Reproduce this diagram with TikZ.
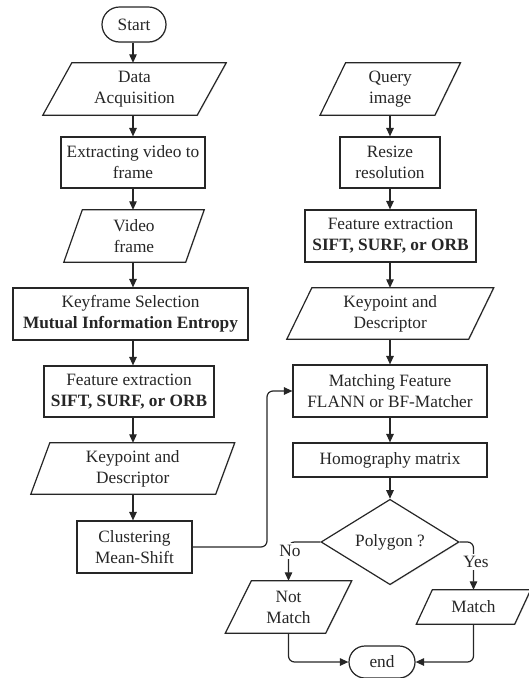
\documentclass[tikz,border=0pt]{standalone}
\usepackage{fontspec}
\setmainfont{Liberation Serif}
\usetikzlibrary{arrows.meta,shapes.geometric,shapes.misc,calc,shadows}
\pgfdeclarelayer{bg}
\pgfsetlayers{bg,main}
\newcommand\diagfont{\fontsize{17.3}{21}\selectfont}
\tikzset{
  ln/.style={line width=1.2pt, draw=black!85},
  shd/.style={drop shadow={shadow xshift=0.8pt,shadow yshift=-1pt,fill=black!30,opacity=0.3}},
  box/.style={rectangle, ln, fill=white, shd, align=center, inner sep=2pt, font=\diagfont, text=black!85},
  term/.style={rounded rectangle, ln, fill=white, shd, align=center, inner sep=2pt, font=\diagfont, text=black!85},
  io/.style={rectangle, draw=none, align=center, inner sep=0pt, font=\diagfont, text=black!85},
  dec/.style={diamond, ln, fill=white, shd, align=center, inner sep=0pt, font=\diagfont, text=black!85},
  arr/.style={ln, -{Triangle[length=8.5pt,width=7.5pt]}},
  lab/.style={fill=white, inner sep=2pt, font=\diagfont, text=black!85},
  paraline/.style={ln, fill=white, shd},
}
\newcommand\parashape[2]{%
  \begin{pgfonlayer}{bg}
    \draw[paraline] ($(#1.north west)+(#2/2,0)$) -- ($(#1.north east)+(#2/2,0)$) --
      ($(#1.south east)-(#2/2,0)$) -- ($(#1.south west)-(#2/2,0)$) -- cycle;
  \end{pgfonlayer}}
\begin{document}
\begin{tikzpicture}[x=1pt,y=-1pt]
\useasboundingbox (0,0) rectangle (528,678);
% left column
\node[term, minimum width=68pt, minimum height=35pt] (start) at (134,24.5) {Start};
\node[io, minimum width=154pt, minimum height=52pt] (data) at (134.5,89) {Data\\Acquisition}; \parashape{data}{29}
\node[box, minimum width=144pt, minimum height=51pt] (extract) at (133,162.5) {Extracting video to\\frame};
\node[io, minimum width=121.5pt, minimum height=52pt] (video) at (134,236) {Video\\frame}; \parashape{video}{18.5}
\node[box, minimum width=235pt, minimum height=52pt] (keyf) at (130.5,314) {Keyframe Selection\\\textbf{Mutual Information Entropy}};
\node[box, minimum width=170pt, minimum height=51pt] (feat1) at (129,391.5) {Feature extraction\\\textbf{SIFT, SURF, or ORB}};
\node[io, minimum width=184.5pt, minimum height=51pt] (kp1) at (132.75,468.5) {Keypoint and\\Descriptor}; \parashape{kp1}{19}
\node[box, minimum width=115pt, minimum height=52pt] (clust) at (134.5,547) {Clustering\\Mean-Shift};
% right column
\node[io, minimum width=114.5pt, minimum height=52pt] (query) at (390.25,89) {Query\\image}; \parashape{query}{25.5}
\node[box, minimum width=100pt, minimum height=51pt] (resize) at (390,162.5) {Resize\\resolution};
\node[box, minimum width=171pt, minimum height=52pt] (feat2) at (390.5,236) {Feature extraction\\\textbf{SIFT, SURF, or ORB}};
\node[io, minimum width=181.5pt, minimum height=51pt] (kp2) at (390.25,313.5) {Keypoint and\\Descriptor}; \parashape{kp2}{25}
\node[box, minimum width=194pt, minimum height=52pt] (match) at (390,391) {Matching Feature\\FLANN or BF-Matcher};
\node[box, minimum width=194pt, minimum height=34pt] (homo) at (390,460) {Homography matrix};
\node[dec, minimum width=138pt, minimum height=78pt] (poly) at (390,542) {Polygon ?};
\node[io, minimum width=100pt, minimum height=52pt] (nomatch) at (288.5,607) {Not\\Match}; \parashape{nomatch}{26}
\node[io, minimum width=98pt, minimum height=34pt] (yesmatch) at (473.5,607) {Match}; \parashape{yesmatch}{16}
\node[term, minimum width=70pt, minimum height=32pt] (endn) at (382,662) {end};
% connectors
\coordinate (colL) at (133,0);
\coordinate (colR) at (390,0);
\coordinate (bendx) at (267,0);
\draw[arr] (start.south -| colL) -- (data.north -| colL);
\draw[arr] (data.south -| colL) -- (extract.north -| colL);
\draw[arr] (extract.south -| colL) -- (video.north -| colL);
\draw[arr] (video.south -| colL) -- (keyf.north -| colL);
\draw[arr] (keyf.south -| colL) -- (feat1.north -| colL);
\draw[arr] (feat1.south -| colL) -- (kp1.north -| colL);
\draw[arr] (kp1.south -| colL) -- (clust.north -| colL);
\draw[arr] (query.south -| colR) -- (resize.north -| colR);
\draw[arr] (resize.south -| colR) -- (feat2.north -| colR);
\draw[arr] (feat2.south -| colR) -- (kp2.north -| colR);
\draw[arr] (kp2.south -| colR) -- (match.north -| colR);
\draw[arr] (match.south -| colR) -- (homo.north -| colR);
\draw[arr] (homo.south -| colR) -- (poly.north -| colR);
\draw[arr, rounded corners=6pt] (clust.east) -- (clust.east -| bendx) -- (bendx |- match.west) -- (match.west);
\draw[arr, rounded corners=6pt] (poly.west) -- (poly.west -| nomatch.north) -- (nomatch.north);
\node[lab] (nolab) at (290,551) {No};
\draw[arr, rounded corners=6pt] (poly.east) -- (poly.east -| yesmatch.north) -- (yesmatch.north);
\node[lab] (yeslab) at (476,562) {Yes};
\draw[arr, rounded corners=6pt] (nomatch.south) |- (endn.west);
\draw[arr, rounded corners=6pt] (yesmatch.south) |- (endn.east);
\end{tikzpicture}
\end{document}
